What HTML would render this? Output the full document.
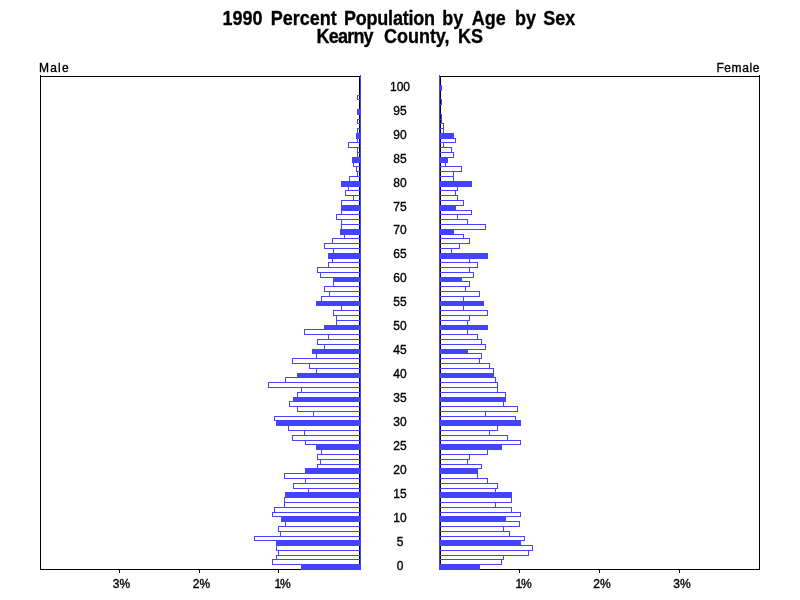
<!DOCTYPE html>
<html><head><meta charset="utf-8"><title>1990 Percent Population by Age by Sex - Kearny County, KS</title>
<style>
html,body{margin:0;padding:0;background:#fff}
body{width:800px;height:600px;position:relative;overflow:hidden;font-family:"Liberation Sans",Arial,Helvetica,sans-serif;color:#000}
.t{position:absolute;left:0;width:800px;height:20px;font-weight:bold;font-size:18px;line-height:20px;white-space:nowrap;transform:scaleY(1.077);transform-origin:0 0;-webkit-text-stroke:0.3px #000}
.t span{position:absolute;top:0}
.l{position:absolute;font-size:12px;line-height:14px;white-space:nowrap;-webkit-text-stroke:0.35px #000}
.age{left:380px;width:40px;text-align:center}
.tk{top:577px;width:40px;text-align:center}
</style></head><body>
<svg width="800" height="600" viewBox="0 0 800 600" shape-rendering="crispEdges" style="position:absolute;left:0;top:0"><rect x="40" y="76" width="320" height="1" fill="#000"/><rect x="40" y="569" width="320" height="1" fill="#000"/><rect x="40" y="75" width="1" height="495" fill="#000"/><rect x="359" y="76" width="1" height="494" fill="#000"/><rect x="440" y="76" width="320" height="1" fill="#000"/><rect x="440" y="569" width="320" height="1" fill="#000"/><rect x="440" y="76" width="1" height="494" fill="#000"/><rect x="759" y="75" width="1" height="495" fill="#000"/><rect x="119" y="570" width="1" height="3" fill="#000"/><rect x="199" y="570" width="1" height="3" fill="#000"/><rect x="278" y="570" width="1" height="3" fill="#000"/><rect x="519" y="570" width="1" height="3" fill="#000"/><rect x="599" y="570" width="1" height="3" fill="#000"/><rect x="679" y="570" width="1" height="3" fill="#000"/><rect x="301" y="564" width="60" height="6" fill="#4444ff"/><rect x="272" y="559" width="89" height="1" fill="#4444ff"/><rect x="272" y="564" width="89" height="1" fill="#4444ff"/><rect x="272" y="559" width="1" height="6" fill="#4444ff"/><rect x="360" y="559" width="1" height="6" fill="#4444ff"/><rect x="276" y="555" width="85" height="1" fill="#4444ff"/><rect x="276" y="559" width="85" height="1" fill="#4444ff"/><rect x="276" y="555" width="1" height="5" fill="#4444ff"/><rect x="360" y="555" width="1" height="5" fill="#4444ff"/><rect x="278" y="550" width="83" height="1" fill="#4444ff"/><rect x="278" y="555" width="83" height="1" fill="#4444ff"/><rect x="278" y="550" width="1" height="6" fill="#4444ff"/><rect x="360" y="550" width="1" height="6" fill="#4444ff"/><rect x="276" y="545" width="85" height="1" fill="#4444ff"/><rect x="276" y="550" width="85" height="1" fill="#4444ff"/><rect x="276" y="545" width="1" height="6" fill="#4444ff"/><rect x="360" y="545" width="1" height="6" fill="#4444ff"/><rect x="276" y="540" width="85" height="6" fill="#4444ff"/><rect x="254" y="536" width="107" height="1" fill="#4444ff"/><rect x="254" y="540" width="107" height="1" fill="#4444ff"/><rect x="254" y="536" width="1" height="5" fill="#4444ff"/><rect x="360" y="536" width="1" height="5" fill="#4444ff"/><rect x="280" y="531" width="81" height="1" fill="#4444ff"/><rect x="280" y="536" width="81" height="1" fill="#4444ff"/><rect x="280" y="531" width="1" height="6" fill="#4444ff"/><rect x="360" y="531" width="1" height="6" fill="#4444ff"/><rect x="278" y="526" width="83" height="1" fill="#4444ff"/><rect x="278" y="531" width="83" height="1" fill="#4444ff"/><rect x="278" y="526" width="1" height="6" fill="#4444ff"/><rect x="360" y="526" width="1" height="6" fill="#4444ff"/><rect x="285" y="521" width="76" height="1" fill="#4444ff"/><rect x="285" y="526" width="76" height="1" fill="#4444ff"/><rect x="285" y="521" width="1" height="6" fill="#4444ff"/><rect x="360" y="521" width="1" height="6" fill="#4444ff"/><rect x="281" y="516" width="80" height="6" fill="#4444ff"/><rect x="272" y="512" width="89" height="1" fill="#4444ff"/><rect x="272" y="516" width="89" height="1" fill="#4444ff"/><rect x="272" y="512" width="1" height="5" fill="#4444ff"/><rect x="360" y="512" width="1" height="5" fill="#4444ff"/><rect x="274" y="507" width="87" height="1" fill="#4444ff"/><rect x="274" y="512" width="87" height="1" fill="#4444ff"/><rect x="274" y="507" width="1" height="6" fill="#4444ff"/><rect x="360" y="507" width="1" height="6" fill="#4444ff"/><rect x="284" y="502" width="77" height="1" fill="#4444ff"/><rect x="284" y="507" width="77" height="1" fill="#4444ff"/><rect x="284" y="502" width="1" height="6" fill="#4444ff"/><rect x="360" y="502" width="1" height="6" fill="#4444ff"/><rect x="284" y="497" width="77" height="1" fill="#4444ff"/><rect x="284" y="502" width="77" height="1" fill="#4444ff"/><rect x="284" y="497" width="1" height="6" fill="#4444ff"/><rect x="360" y="497" width="1" height="6" fill="#4444ff"/><rect x="285" y="492" width="76" height="6" fill="#4444ff"/><rect x="308" y="488" width="53" height="1" fill="#4444ff"/><rect x="308" y="492" width="53" height="1" fill="#4444ff"/><rect x="308" y="488" width="1" height="5" fill="#4444ff"/><rect x="360" y="488" width="1" height="5" fill="#4444ff"/><rect x="293" y="483" width="68" height="1" fill="#4444ff"/><rect x="293" y="488" width="68" height="1" fill="#4444ff"/><rect x="293" y="483" width="1" height="6" fill="#4444ff"/><rect x="360" y="483" width="1" height="6" fill="#4444ff"/><rect x="305" y="478" width="56" height="1" fill="#4444ff"/><rect x="305" y="483" width="56" height="1" fill="#4444ff"/><rect x="305" y="478" width="1" height="6" fill="#4444ff"/><rect x="360" y="478" width="1" height="6" fill="#4444ff"/><rect x="284" y="473" width="77" height="1" fill="#4444ff"/><rect x="284" y="478" width="77" height="1" fill="#4444ff"/><rect x="284" y="473" width="1" height="6" fill="#4444ff"/><rect x="360" y="473" width="1" height="6" fill="#4444ff"/><rect x="305" y="468" width="56" height="6" fill="#4444ff"/><rect x="317" y="464" width="44" height="1" fill="#4444ff"/><rect x="317" y="468" width="44" height="1" fill="#4444ff"/><rect x="317" y="464" width="1" height="5" fill="#4444ff"/><rect x="360" y="464" width="1" height="5" fill="#4444ff"/><rect x="320" y="459" width="41" height="1" fill="#4444ff"/><rect x="320" y="464" width="41" height="1" fill="#4444ff"/><rect x="320" y="459" width="1" height="6" fill="#4444ff"/><rect x="360" y="459" width="1" height="6" fill="#4444ff"/><rect x="317" y="454" width="44" height="1" fill="#4444ff"/><rect x="317" y="459" width="44" height="1" fill="#4444ff"/><rect x="317" y="454" width="1" height="6" fill="#4444ff"/><rect x="360" y="454" width="1" height="6" fill="#4444ff"/><rect x="321" y="449" width="40" height="1" fill="#4444ff"/><rect x="321" y="454" width="40" height="1" fill="#4444ff"/><rect x="321" y="449" width="1" height="6" fill="#4444ff"/><rect x="360" y="449" width="1" height="6" fill="#4444ff"/><rect x="316" y="444" width="45" height="6" fill="#4444ff"/><rect x="305" y="440" width="56" height="1" fill="#4444ff"/><rect x="305" y="444" width="56" height="1" fill="#4444ff"/><rect x="305" y="440" width="1" height="5" fill="#4444ff"/><rect x="360" y="440" width="1" height="5" fill="#4444ff"/><rect x="292" y="435" width="69" height="1" fill="#4444ff"/><rect x="292" y="440" width="69" height="1" fill="#4444ff"/><rect x="292" y="435" width="1" height="6" fill="#4444ff"/><rect x="360" y="435" width="1" height="6" fill="#4444ff"/><rect x="304" y="430" width="57" height="1" fill="#4444ff"/><rect x="304" y="435" width="57" height="1" fill="#4444ff"/><rect x="304" y="430" width="1" height="6" fill="#4444ff"/><rect x="360" y="430" width="1" height="6" fill="#4444ff"/><rect x="288" y="425" width="73" height="1" fill="#4444ff"/><rect x="288" y="430" width="73" height="1" fill="#4444ff"/><rect x="288" y="425" width="1" height="6" fill="#4444ff"/><rect x="360" y="425" width="1" height="6" fill="#4444ff"/><rect x="276" y="420" width="85" height="6" fill="#4444ff"/><rect x="274" y="416" width="87" height="1" fill="#4444ff"/><rect x="274" y="420" width="87" height="1" fill="#4444ff"/><rect x="274" y="416" width="1" height="5" fill="#4444ff"/><rect x="360" y="416" width="1" height="5" fill="#4444ff"/><rect x="313" y="411" width="48" height="1" fill="#4444ff"/><rect x="313" y="416" width="48" height="1" fill="#4444ff"/><rect x="313" y="411" width="1" height="6" fill="#4444ff"/><rect x="360" y="411" width="1" height="6" fill="#4444ff"/><rect x="297" y="406" width="64" height="1" fill="#4444ff"/><rect x="297" y="411" width="64" height="1" fill="#4444ff"/><rect x="297" y="406" width="1" height="6" fill="#4444ff"/><rect x="360" y="406" width="1" height="6" fill="#4444ff"/><rect x="289" y="401" width="72" height="1" fill="#4444ff"/><rect x="289" y="406" width="72" height="1" fill="#4444ff"/><rect x="289" y="401" width="1" height="6" fill="#4444ff"/><rect x="360" y="401" width="1" height="6" fill="#4444ff"/><rect x="293" y="397" width="68" height="5" fill="#4444ff"/><rect x="297" y="392" width="64" height="1" fill="#4444ff"/><rect x="297" y="397" width="64" height="1" fill="#4444ff"/><rect x="297" y="392" width="1" height="6" fill="#4444ff"/><rect x="360" y="392" width="1" height="6" fill="#4444ff"/><rect x="301" y="387" width="60" height="1" fill="#4444ff"/><rect x="301" y="392" width="60" height="1" fill="#4444ff"/><rect x="301" y="387" width="1" height="6" fill="#4444ff"/><rect x="360" y="387" width="1" height="6" fill="#4444ff"/><rect x="268" y="382" width="93" height="1" fill="#4444ff"/><rect x="268" y="387" width="93" height="1" fill="#4444ff"/><rect x="268" y="382" width="1" height="6" fill="#4444ff"/><rect x="360" y="382" width="1" height="6" fill="#4444ff"/><rect x="285" y="377" width="76" height="1" fill="#4444ff"/><rect x="285" y="382" width="76" height="1" fill="#4444ff"/><rect x="285" y="377" width="1" height="6" fill="#4444ff"/><rect x="360" y="377" width="1" height="6" fill="#4444ff"/><rect x="297" y="373" width="64" height="5" fill="#4444ff"/><rect x="316" y="368" width="45" height="1" fill="#4444ff"/><rect x="316" y="373" width="45" height="1" fill="#4444ff"/><rect x="316" y="368" width="1" height="6" fill="#4444ff"/><rect x="360" y="368" width="1" height="6" fill="#4444ff"/><rect x="309" y="363" width="52" height="1" fill="#4444ff"/><rect x="309" y="368" width="52" height="1" fill="#4444ff"/><rect x="309" y="363" width="1" height="6" fill="#4444ff"/><rect x="360" y="363" width="1" height="6" fill="#4444ff"/><rect x="292" y="358" width="69" height="1" fill="#4444ff"/><rect x="292" y="363" width="69" height="1" fill="#4444ff"/><rect x="292" y="358" width="1" height="6" fill="#4444ff"/><rect x="360" y="358" width="1" height="6" fill="#4444ff"/><rect x="316" y="353" width="45" height="1" fill="#4444ff"/><rect x="316" y="358" width="45" height="1" fill="#4444ff"/><rect x="316" y="353" width="1" height="6" fill="#4444ff"/><rect x="360" y="353" width="1" height="6" fill="#4444ff"/><rect x="312" y="349" width="49" height="5" fill="#4444ff"/><rect x="324" y="344" width="37" height="1" fill="#4444ff"/><rect x="324" y="349" width="37" height="1" fill="#4444ff"/><rect x="324" y="344" width="1" height="6" fill="#4444ff"/><rect x="360" y="344" width="1" height="6" fill="#4444ff"/><rect x="317" y="339" width="44" height="1" fill="#4444ff"/><rect x="317" y="344" width="44" height="1" fill="#4444ff"/><rect x="317" y="339" width="1" height="6" fill="#4444ff"/><rect x="360" y="339" width="1" height="6" fill="#4444ff"/><rect x="328" y="334" width="33" height="1" fill="#4444ff"/><rect x="328" y="339" width="33" height="1" fill="#4444ff"/><rect x="328" y="334" width="1" height="6" fill="#4444ff"/><rect x="360" y="334" width="1" height="6" fill="#4444ff"/><rect x="304" y="329" width="57" height="1" fill="#4444ff"/><rect x="304" y="334" width="57" height="1" fill="#4444ff"/><rect x="304" y="329" width="1" height="6" fill="#4444ff"/><rect x="360" y="329" width="1" height="6" fill="#4444ff"/><rect x="324" y="325" width="37" height="5" fill="#4444ff"/><rect x="336" y="320" width="25" height="1" fill="#4444ff"/><rect x="336" y="325" width="25" height="1" fill="#4444ff"/><rect x="336" y="320" width="1" height="6" fill="#4444ff"/><rect x="360" y="320" width="1" height="6" fill="#4444ff"/><rect x="336" y="315" width="25" height="1" fill="#4444ff"/><rect x="336" y="320" width="25" height="1" fill="#4444ff"/><rect x="336" y="315" width="1" height="6" fill="#4444ff"/><rect x="360" y="315" width="1" height="6" fill="#4444ff"/><rect x="333" y="310" width="28" height="1" fill="#4444ff"/><rect x="333" y="315" width="28" height="1" fill="#4444ff"/><rect x="333" y="310" width="1" height="6" fill="#4444ff"/><rect x="360" y="310" width="1" height="6" fill="#4444ff"/><rect x="341" y="305" width="20" height="1" fill="#4444ff"/><rect x="341" y="310" width="20" height="1" fill="#4444ff"/><rect x="341" y="305" width="1" height="6" fill="#4444ff"/><rect x="360" y="305" width="1" height="6" fill="#4444ff"/><rect x="316" y="301" width="45" height="5" fill="#4444ff"/><rect x="321" y="296" width="40" height="1" fill="#4444ff"/><rect x="321" y="301" width="40" height="1" fill="#4444ff"/><rect x="321" y="296" width="1" height="6" fill="#4444ff"/><rect x="360" y="296" width="1" height="6" fill="#4444ff"/><rect x="329" y="291" width="32" height="1" fill="#4444ff"/><rect x="329" y="296" width="32" height="1" fill="#4444ff"/><rect x="329" y="291" width="1" height="6" fill="#4444ff"/><rect x="360" y="291" width="1" height="6" fill="#4444ff"/><rect x="324" y="286" width="37" height="1" fill="#4444ff"/><rect x="324" y="291" width="37" height="1" fill="#4444ff"/><rect x="324" y="286" width="1" height="6" fill="#4444ff"/><rect x="360" y="286" width="1" height="6" fill="#4444ff"/><rect x="333" y="281" width="28" height="1" fill="#4444ff"/><rect x="333" y="286" width="28" height="1" fill="#4444ff"/><rect x="333" y="281" width="1" height="6" fill="#4444ff"/><rect x="360" y="281" width="1" height="6" fill="#4444ff"/><rect x="333" y="277" width="28" height="5" fill="#4444ff"/><rect x="320" y="272" width="41" height="1" fill="#4444ff"/><rect x="320" y="277" width="41" height="1" fill="#4444ff"/><rect x="320" y="272" width="1" height="6" fill="#4444ff"/><rect x="360" y="272" width="1" height="6" fill="#4444ff"/><rect x="317" y="267" width="44" height="1" fill="#4444ff"/><rect x="317" y="272" width="44" height="1" fill="#4444ff"/><rect x="317" y="267" width="1" height="6" fill="#4444ff"/><rect x="360" y="267" width="1" height="6" fill="#4444ff"/><rect x="328" y="262" width="33" height="1" fill="#4444ff"/><rect x="328" y="267" width="33" height="1" fill="#4444ff"/><rect x="328" y="262" width="1" height="6" fill="#4444ff"/><rect x="360" y="262" width="1" height="6" fill="#4444ff"/><rect x="332" y="258" width="29" height="1" fill="#4444ff"/><rect x="332" y="262" width="29" height="1" fill="#4444ff"/><rect x="332" y="258" width="1" height="5" fill="#4444ff"/><rect x="360" y="258" width="1" height="5" fill="#4444ff"/><rect x="328" y="253" width="33" height="6" fill="#4444ff"/><rect x="333" y="248" width="28" height="1" fill="#4444ff"/><rect x="333" y="253" width="28" height="1" fill="#4444ff"/><rect x="333" y="248" width="1" height="6" fill="#4444ff"/><rect x="360" y="248" width="1" height="6" fill="#4444ff"/><rect x="324" y="243" width="37" height="1" fill="#4444ff"/><rect x="324" y="248" width="37" height="1" fill="#4444ff"/><rect x="324" y="243" width="1" height="6" fill="#4444ff"/><rect x="360" y="243" width="1" height="6" fill="#4444ff"/><rect x="332" y="238" width="29" height="1" fill="#4444ff"/><rect x="332" y="243" width="29" height="1" fill="#4444ff"/><rect x="332" y="238" width="1" height="6" fill="#4444ff"/><rect x="360" y="238" width="1" height="6" fill="#4444ff"/><rect x="344" y="234" width="17" height="1" fill="#4444ff"/><rect x="344" y="238" width="17" height="1" fill="#4444ff"/><rect x="344" y="234" width="1" height="5" fill="#4444ff"/><rect x="360" y="234" width="1" height="5" fill="#4444ff"/><rect x="340" y="229" width="21" height="6" fill="#4444ff"/><rect x="341" y="224" width="20" height="1" fill="#4444ff"/><rect x="341" y="229" width="20" height="1" fill="#4444ff"/><rect x="341" y="224" width="1" height="6" fill="#4444ff"/><rect x="360" y="224" width="1" height="6" fill="#4444ff"/><rect x="341" y="219" width="20" height="1" fill="#4444ff"/><rect x="341" y="224" width="20" height="1" fill="#4444ff"/><rect x="341" y="219" width="1" height="6" fill="#4444ff"/><rect x="360" y="219" width="1" height="6" fill="#4444ff"/><rect x="336" y="214" width="25" height="1" fill="#4444ff"/><rect x="336" y="219" width="25" height="1" fill="#4444ff"/><rect x="336" y="214" width="1" height="6" fill="#4444ff"/><rect x="360" y="214" width="1" height="6" fill="#4444ff"/><rect x="341" y="210" width="20" height="1" fill="#4444ff"/><rect x="341" y="214" width="20" height="1" fill="#4444ff"/><rect x="341" y="210" width="1" height="5" fill="#4444ff"/><rect x="360" y="210" width="1" height="5" fill="#4444ff"/><rect x="341" y="205" width="20" height="6" fill="#4444ff"/><rect x="341" y="200" width="20" height="1" fill="#4444ff"/><rect x="341" y="205" width="20" height="1" fill="#4444ff"/><rect x="341" y="200" width="1" height="6" fill="#4444ff"/><rect x="360" y="200" width="1" height="6" fill="#4444ff"/><rect x="353" y="195" width="8" height="1" fill="#4444ff"/><rect x="353" y="200" width="8" height="1" fill="#4444ff"/><rect x="353" y="195" width="1" height="6" fill="#4444ff"/><rect x="360" y="195" width="1" height="6" fill="#4444ff"/><rect x="345" y="190" width="16" height="1" fill="#4444ff"/><rect x="345" y="195" width="16" height="1" fill="#4444ff"/><rect x="345" y="190" width="1" height="6" fill="#4444ff"/><rect x="360" y="190" width="1" height="6" fill="#4444ff"/><rect x="348" y="186" width="13" height="1" fill="#4444ff"/><rect x="348" y="190" width="13" height="1" fill="#4444ff"/><rect x="348" y="186" width="1" height="5" fill="#4444ff"/><rect x="360" y="186" width="1" height="5" fill="#4444ff"/><rect x="341" y="181" width="20" height="6" fill="#4444ff"/><rect x="349" y="176" width="12" height="1" fill="#4444ff"/><rect x="349" y="181" width="12" height="1" fill="#4444ff"/><rect x="349" y="176" width="1" height="6" fill="#4444ff"/><rect x="360" y="176" width="1" height="6" fill="#4444ff"/><rect x="357" y="171" width="4" height="1" fill="#4444ff"/><rect x="357" y="176" width="4" height="1" fill="#4444ff"/><rect x="357" y="171" width="1" height="6" fill="#4444ff"/><rect x="360" y="171" width="1" height="6" fill="#4444ff"/><rect x="356" y="166" width="5" height="1" fill="#4444ff"/><rect x="356" y="171" width="5" height="1" fill="#4444ff"/><rect x="356" y="166" width="1" height="6" fill="#4444ff"/><rect x="360" y="166" width="1" height="6" fill="#4444ff"/><rect x="353" y="162" width="8" height="1" fill="#4444ff"/><rect x="353" y="166" width="8" height="1" fill="#4444ff"/><rect x="353" y="162" width="1" height="5" fill="#4444ff"/><rect x="360" y="162" width="1" height="5" fill="#4444ff"/><rect x="352" y="157" width="9" height="6" fill="#4444ff"/><rect x="357" y="152" width="4" height="1" fill="#4444ff"/><rect x="357" y="157" width="4" height="1" fill="#4444ff"/><rect x="357" y="152" width="1" height="6" fill="#4444ff"/><rect x="360" y="152" width="1" height="6" fill="#4444ff"/><rect x="357" y="147" width="4" height="1" fill="#4444ff"/><rect x="357" y="152" width="4" height="1" fill="#4444ff"/><rect x="357" y="147" width="1" height="6" fill="#4444ff"/><rect x="360" y="147" width="1" height="6" fill="#4444ff"/><rect x="348" y="142" width="13" height="1" fill="#4444ff"/><rect x="348" y="147" width="13" height="1" fill="#4444ff"/><rect x="348" y="142" width="1" height="6" fill="#4444ff"/><rect x="360" y="142" width="1" height="6" fill="#4444ff"/><rect x="357" y="138" width="4" height="1" fill="#4444ff"/><rect x="357" y="142" width="4" height="1" fill="#4444ff"/><rect x="357" y="138" width="1" height="5" fill="#4444ff"/><rect x="360" y="138" width="1" height="5" fill="#4444ff"/><rect x="356" y="133" width="5" height="6" fill="#4444ff"/><rect x="357" y="128" width="4" height="1" fill="#4444ff"/><rect x="357" y="133" width="4" height="1" fill="#4444ff"/><rect x="357" y="128" width="1" height="6" fill="#4444ff"/><rect x="360" y="128" width="1" height="6" fill="#4444ff"/><rect x="357" y="119" width="4" height="1" fill="#4444ff"/><rect x="357" y="123" width="4" height="1" fill="#4444ff"/><rect x="357" y="119" width="1" height="5" fill="#4444ff"/><rect x="360" y="119" width="1" height="5" fill="#4444ff"/><rect x="357" y="109" width="4" height="6" fill="#4444ff"/><rect x="357" y="95" width="4" height="1" fill="#4444ff"/><rect x="357" y="99" width="4" height="1" fill="#4444ff"/><rect x="357" y="95" width="1" height="5" fill="#4444ff"/><rect x="360" y="95" width="1" height="5" fill="#4444ff"/><rect x="439" y="564" width="41" height="6" fill="#4444ff"/><rect x="439" y="559" width="63" height="1" fill="#4444ff"/><rect x="439" y="564" width="63" height="1" fill="#4444ff"/><rect x="439" y="559" width="1" height="6" fill="#4444ff"/><rect x="501" y="559" width="1" height="6" fill="#4444ff"/><rect x="439" y="555" width="65" height="1" fill="#4444ff"/><rect x="439" y="559" width="65" height="1" fill="#4444ff"/><rect x="439" y="555" width="1" height="5" fill="#4444ff"/><rect x="503" y="555" width="1" height="5" fill="#4444ff"/><rect x="439" y="550" width="90" height="1" fill="#4444ff"/><rect x="439" y="555" width="90" height="1" fill="#4444ff"/><rect x="439" y="550" width="1" height="6" fill="#4444ff"/><rect x="528" y="550" width="1" height="6" fill="#4444ff"/><rect x="439" y="545" width="94" height="1" fill="#4444ff"/><rect x="439" y="550" width="94" height="1" fill="#4444ff"/><rect x="439" y="545" width="1" height="6" fill="#4444ff"/><rect x="532" y="545" width="1" height="6" fill="#4444ff"/><rect x="439" y="540" width="82" height="6" fill="#4444ff"/><rect x="439" y="536" width="86" height="1" fill="#4444ff"/><rect x="439" y="540" width="86" height="1" fill="#4444ff"/><rect x="439" y="536" width="1" height="5" fill="#4444ff"/><rect x="524" y="536" width="1" height="5" fill="#4444ff"/><rect x="439" y="531" width="71" height="1" fill="#4444ff"/><rect x="439" y="536" width="71" height="1" fill="#4444ff"/><rect x="439" y="531" width="1" height="6" fill="#4444ff"/><rect x="509" y="531" width="1" height="6" fill="#4444ff"/><rect x="439" y="526" width="65" height="1" fill="#4444ff"/><rect x="439" y="531" width="65" height="1" fill="#4444ff"/><rect x="439" y="526" width="1" height="6" fill="#4444ff"/><rect x="503" y="526" width="1" height="6" fill="#4444ff"/><rect x="439" y="521" width="81" height="1" fill="#4444ff"/><rect x="439" y="526" width="81" height="1" fill="#4444ff"/><rect x="439" y="521" width="1" height="6" fill="#4444ff"/><rect x="519" y="521" width="1" height="6" fill="#4444ff"/><rect x="439" y="516" width="67" height="6" fill="#4444ff"/><rect x="439" y="512" width="82" height="1" fill="#4444ff"/><rect x="439" y="516" width="82" height="1" fill="#4444ff"/><rect x="439" y="512" width="1" height="5" fill="#4444ff"/><rect x="520" y="512" width="1" height="5" fill="#4444ff"/><rect x="439" y="507" width="73" height="1" fill="#4444ff"/><rect x="439" y="512" width="73" height="1" fill="#4444ff"/><rect x="439" y="507" width="1" height="6" fill="#4444ff"/><rect x="511" y="507" width="1" height="6" fill="#4444ff"/><rect x="439" y="502" width="57" height="1" fill="#4444ff"/><rect x="439" y="507" width="57" height="1" fill="#4444ff"/><rect x="439" y="502" width="1" height="6" fill="#4444ff"/><rect x="495" y="502" width="1" height="6" fill="#4444ff"/><rect x="439" y="497" width="73" height="1" fill="#4444ff"/><rect x="439" y="502" width="73" height="1" fill="#4444ff"/><rect x="439" y="497" width="1" height="6" fill="#4444ff"/><rect x="511" y="497" width="1" height="6" fill="#4444ff"/><rect x="439" y="492" width="73" height="6" fill="#4444ff"/><rect x="439" y="488" width="57" height="1" fill="#4444ff"/><rect x="439" y="492" width="57" height="1" fill="#4444ff"/><rect x="439" y="488" width="1" height="5" fill="#4444ff"/><rect x="495" y="488" width="1" height="5" fill="#4444ff"/><rect x="439" y="483" width="59" height="1" fill="#4444ff"/><rect x="439" y="488" width="59" height="1" fill="#4444ff"/><rect x="439" y="483" width="1" height="6" fill="#4444ff"/><rect x="497" y="483" width="1" height="6" fill="#4444ff"/><rect x="439" y="478" width="49" height="1" fill="#4444ff"/><rect x="439" y="483" width="49" height="1" fill="#4444ff"/><rect x="439" y="478" width="1" height="6" fill="#4444ff"/><rect x="487" y="478" width="1" height="6" fill="#4444ff"/><rect x="439" y="473" width="39" height="1" fill="#4444ff"/><rect x="439" y="478" width="39" height="1" fill="#4444ff"/><rect x="439" y="473" width="1" height="6" fill="#4444ff"/><rect x="477" y="473" width="1" height="6" fill="#4444ff"/><rect x="439" y="468" width="39" height="6" fill="#4444ff"/><rect x="439" y="464" width="43" height="1" fill="#4444ff"/><rect x="439" y="468" width="43" height="1" fill="#4444ff"/><rect x="439" y="464" width="1" height="5" fill="#4444ff"/><rect x="481" y="464" width="1" height="5" fill="#4444ff"/><rect x="439" y="459" width="29" height="1" fill="#4444ff"/><rect x="439" y="464" width="29" height="1" fill="#4444ff"/><rect x="439" y="459" width="1" height="6" fill="#4444ff"/><rect x="467" y="459" width="1" height="6" fill="#4444ff"/><rect x="439" y="454" width="31" height="1" fill="#4444ff"/><rect x="439" y="459" width="31" height="1" fill="#4444ff"/><rect x="439" y="454" width="1" height="6" fill="#4444ff"/><rect x="469" y="454" width="1" height="6" fill="#4444ff"/><rect x="439" y="449" width="49" height="1" fill="#4444ff"/><rect x="439" y="454" width="49" height="1" fill="#4444ff"/><rect x="439" y="449" width="1" height="6" fill="#4444ff"/><rect x="487" y="449" width="1" height="6" fill="#4444ff"/><rect x="439" y="444" width="63" height="6" fill="#4444ff"/><rect x="439" y="440" width="82" height="1" fill="#4444ff"/><rect x="439" y="444" width="82" height="1" fill="#4444ff"/><rect x="439" y="440" width="1" height="5" fill="#4444ff"/><rect x="520" y="440" width="1" height="5" fill="#4444ff"/><rect x="439" y="435" width="69" height="1" fill="#4444ff"/><rect x="439" y="440" width="69" height="1" fill="#4444ff"/><rect x="439" y="435" width="1" height="6" fill="#4444ff"/><rect x="507" y="435" width="1" height="6" fill="#4444ff"/><rect x="439" y="430" width="51" height="1" fill="#4444ff"/><rect x="439" y="435" width="51" height="1" fill="#4444ff"/><rect x="439" y="430" width="1" height="6" fill="#4444ff"/><rect x="489" y="430" width="1" height="6" fill="#4444ff"/><rect x="439" y="425" width="59" height="1" fill="#4444ff"/><rect x="439" y="430" width="59" height="1" fill="#4444ff"/><rect x="439" y="425" width="1" height="6" fill="#4444ff"/><rect x="497" y="425" width="1" height="6" fill="#4444ff"/><rect x="439" y="420" width="82" height="6" fill="#4444ff"/><rect x="439" y="416" width="77" height="1" fill="#4444ff"/><rect x="439" y="420" width="77" height="1" fill="#4444ff"/><rect x="439" y="416" width="1" height="5" fill="#4444ff"/><rect x="515" y="416" width="1" height="5" fill="#4444ff"/><rect x="439" y="411" width="47" height="1" fill="#4444ff"/><rect x="439" y="416" width="47" height="1" fill="#4444ff"/><rect x="439" y="411" width="1" height="6" fill="#4444ff"/><rect x="485" y="411" width="1" height="6" fill="#4444ff"/><rect x="439" y="406" width="79" height="1" fill="#4444ff"/><rect x="439" y="411" width="79" height="1" fill="#4444ff"/><rect x="439" y="406" width="1" height="6" fill="#4444ff"/><rect x="517" y="406" width="1" height="6" fill="#4444ff"/><rect x="439" y="401" width="65" height="1" fill="#4444ff"/><rect x="439" y="406" width="65" height="1" fill="#4444ff"/><rect x="439" y="401" width="1" height="6" fill="#4444ff"/><rect x="503" y="401" width="1" height="6" fill="#4444ff"/><rect x="439" y="397" width="67" height="5" fill="#4444ff"/><rect x="439" y="392" width="67" height="1" fill="#4444ff"/><rect x="439" y="397" width="67" height="1" fill="#4444ff"/><rect x="439" y="392" width="1" height="6" fill="#4444ff"/><rect x="505" y="392" width="1" height="6" fill="#4444ff"/><rect x="439" y="387" width="59" height="1" fill="#4444ff"/><rect x="439" y="392" width="59" height="1" fill="#4444ff"/><rect x="439" y="387" width="1" height="6" fill="#4444ff"/><rect x="497" y="387" width="1" height="6" fill="#4444ff"/><rect x="439" y="382" width="59" height="1" fill="#4444ff"/><rect x="439" y="387" width="59" height="1" fill="#4444ff"/><rect x="439" y="382" width="1" height="6" fill="#4444ff"/><rect x="497" y="382" width="1" height="6" fill="#4444ff"/><rect x="439" y="377" width="57" height="1" fill="#4444ff"/><rect x="439" y="382" width="57" height="1" fill="#4444ff"/><rect x="439" y="377" width="1" height="6" fill="#4444ff"/><rect x="495" y="377" width="1" height="6" fill="#4444ff"/><rect x="439" y="373" width="55" height="5" fill="#4444ff"/><rect x="439" y="368" width="55" height="1" fill="#4444ff"/><rect x="439" y="373" width="55" height="1" fill="#4444ff"/><rect x="439" y="368" width="1" height="6" fill="#4444ff"/><rect x="493" y="368" width="1" height="6" fill="#4444ff"/><rect x="439" y="363" width="51" height="1" fill="#4444ff"/><rect x="439" y="368" width="51" height="1" fill="#4444ff"/><rect x="439" y="363" width="1" height="6" fill="#4444ff"/><rect x="489" y="363" width="1" height="6" fill="#4444ff"/><rect x="439" y="358" width="41" height="1" fill="#4444ff"/><rect x="439" y="363" width="41" height="1" fill="#4444ff"/><rect x="439" y="358" width="1" height="6" fill="#4444ff"/><rect x="479" y="358" width="1" height="6" fill="#4444ff"/><rect x="439" y="353" width="43" height="1" fill="#4444ff"/><rect x="439" y="358" width="43" height="1" fill="#4444ff"/><rect x="439" y="353" width="1" height="6" fill="#4444ff"/><rect x="481" y="353" width="1" height="6" fill="#4444ff"/><rect x="439" y="349" width="29" height="5" fill="#4444ff"/><rect x="439" y="344" width="47" height="1" fill="#4444ff"/><rect x="439" y="349" width="47" height="1" fill="#4444ff"/><rect x="439" y="344" width="1" height="6" fill="#4444ff"/><rect x="485" y="344" width="1" height="6" fill="#4444ff"/><rect x="439" y="339" width="43" height="1" fill="#4444ff"/><rect x="439" y="344" width="43" height="1" fill="#4444ff"/><rect x="439" y="339" width="1" height="6" fill="#4444ff"/><rect x="481" y="339" width="1" height="6" fill="#4444ff"/><rect x="439" y="334" width="39" height="1" fill="#4444ff"/><rect x="439" y="339" width="39" height="1" fill="#4444ff"/><rect x="439" y="334" width="1" height="6" fill="#4444ff"/><rect x="477" y="334" width="1" height="6" fill="#4444ff"/><rect x="439" y="329" width="29" height="1" fill="#4444ff"/><rect x="439" y="334" width="29" height="1" fill="#4444ff"/><rect x="439" y="329" width="1" height="6" fill="#4444ff"/><rect x="467" y="329" width="1" height="6" fill="#4444ff"/><rect x="439" y="325" width="49" height="5" fill="#4444ff"/><rect x="439" y="320" width="29" height="1" fill="#4444ff"/><rect x="439" y="325" width="29" height="1" fill="#4444ff"/><rect x="439" y="320" width="1" height="6" fill="#4444ff"/><rect x="467" y="320" width="1" height="6" fill="#4444ff"/><rect x="439" y="315" width="31" height="1" fill="#4444ff"/><rect x="439" y="320" width="31" height="1" fill="#4444ff"/><rect x="439" y="315" width="1" height="6" fill="#4444ff"/><rect x="469" y="315" width="1" height="6" fill="#4444ff"/><rect x="439" y="310" width="49" height="1" fill="#4444ff"/><rect x="439" y="315" width="49" height="1" fill="#4444ff"/><rect x="439" y="310" width="1" height="6" fill="#4444ff"/><rect x="487" y="310" width="1" height="6" fill="#4444ff"/><rect x="439" y="305" width="25" height="1" fill="#4444ff"/><rect x="439" y="310" width="25" height="1" fill="#4444ff"/><rect x="439" y="305" width="1" height="6" fill="#4444ff"/><rect x="463" y="305" width="1" height="6" fill="#4444ff"/><rect x="439" y="301" width="45" height="5" fill="#4444ff"/><rect x="439" y="296" width="25" height="1" fill="#4444ff"/><rect x="439" y="301" width="25" height="1" fill="#4444ff"/><rect x="439" y="296" width="1" height="6" fill="#4444ff"/><rect x="463" y="296" width="1" height="6" fill="#4444ff"/><rect x="439" y="291" width="41" height="1" fill="#4444ff"/><rect x="439" y="296" width="41" height="1" fill="#4444ff"/><rect x="439" y="291" width="1" height="6" fill="#4444ff"/><rect x="479" y="291" width="1" height="6" fill="#4444ff"/><rect x="439" y="286" width="27" height="1" fill="#4444ff"/><rect x="439" y="291" width="27" height="1" fill="#4444ff"/><rect x="439" y="286" width="1" height="6" fill="#4444ff"/><rect x="465" y="286" width="1" height="6" fill="#4444ff"/><rect x="439" y="281" width="31" height="1" fill="#4444ff"/><rect x="439" y="286" width="31" height="1" fill="#4444ff"/><rect x="439" y="281" width="1" height="6" fill="#4444ff"/><rect x="469" y="281" width="1" height="6" fill="#4444ff"/><rect x="439" y="277" width="23" height="5" fill="#4444ff"/><rect x="439" y="272" width="35" height="1" fill="#4444ff"/><rect x="439" y="277" width="35" height="1" fill="#4444ff"/><rect x="439" y="272" width="1" height="6" fill="#4444ff"/><rect x="473" y="272" width="1" height="6" fill="#4444ff"/><rect x="439" y="267" width="31" height="1" fill="#4444ff"/><rect x="439" y="272" width="31" height="1" fill="#4444ff"/><rect x="439" y="267" width="1" height="6" fill="#4444ff"/><rect x="469" y="267" width="1" height="6" fill="#4444ff"/><rect x="439" y="262" width="39" height="1" fill="#4444ff"/><rect x="439" y="267" width="39" height="1" fill="#4444ff"/><rect x="439" y="262" width="1" height="6" fill="#4444ff"/><rect x="477" y="262" width="1" height="6" fill="#4444ff"/><rect x="439" y="258" width="31" height="1" fill="#4444ff"/><rect x="439" y="262" width="31" height="1" fill="#4444ff"/><rect x="439" y="258" width="1" height="5" fill="#4444ff"/><rect x="469" y="258" width="1" height="5" fill="#4444ff"/><rect x="439" y="253" width="49" height="6" fill="#4444ff"/><rect x="439" y="248" width="13" height="1" fill="#4444ff"/><rect x="439" y="253" width="13" height="1" fill="#4444ff"/><rect x="439" y="248" width="1" height="6" fill="#4444ff"/><rect x="451" y="248" width="1" height="6" fill="#4444ff"/><rect x="439" y="243" width="21" height="1" fill="#4444ff"/><rect x="439" y="248" width="21" height="1" fill="#4444ff"/><rect x="439" y="243" width="1" height="6" fill="#4444ff"/><rect x="459" y="243" width="1" height="6" fill="#4444ff"/><rect x="439" y="238" width="31" height="1" fill="#4444ff"/><rect x="439" y="243" width="31" height="1" fill="#4444ff"/><rect x="439" y="238" width="1" height="6" fill="#4444ff"/><rect x="469" y="238" width="1" height="6" fill="#4444ff"/><rect x="439" y="234" width="25" height="1" fill="#4444ff"/><rect x="439" y="238" width="25" height="1" fill="#4444ff"/><rect x="439" y="234" width="1" height="5" fill="#4444ff"/><rect x="463" y="234" width="1" height="5" fill="#4444ff"/><rect x="439" y="229" width="15" height="6" fill="#4444ff"/><rect x="439" y="224" width="47" height="1" fill="#4444ff"/><rect x="439" y="229" width="47" height="1" fill="#4444ff"/><rect x="439" y="224" width="1" height="6" fill="#4444ff"/><rect x="485" y="224" width="1" height="6" fill="#4444ff"/><rect x="439" y="219" width="29" height="1" fill="#4444ff"/><rect x="439" y="224" width="29" height="1" fill="#4444ff"/><rect x="439" y="219" width="1" height="6" fill="#4444ff"/><rect x="467" y="219" width="1" height="6" fill="#4444ff"/><rect x="439" y="214" width="19" height="1" fill="#4444ff"/><rect x="439" y="219" width="19" height="1" fill="#4444ff"/><rect x="439" y="214" width="1" height="6" fill="#4444ff"/><rect x="457" y="214" width="1" height="6" fill="#4444ff"/><rect x="439" y="210" width="33" height="1" fill="#4444ff"/><rect x="439" y="214" width="33" height="1" fill="#4444ff"/><rect x="439" y="210" width="1" height="5" fill="#4444ff"/><rect x="471" y="210" width="1" height="5" fill="#4444ff"/><rect x="439" y="205" width="17" height="6" fill="#4444ff"/><rect x="439" y="200" width="25" height="1" fill="#4444ff"/><rect x="439" y="205" width="25" height="1" fill="#4444ff"/><rect x="439" y="200" width="1" height="6" fill="#4444ff"/><rect x="463" y="200" width="1" height="6" fill="#4444ff"/><rect x="439" y="195" width="19" height="1" fill="#4444ff"/><rect x="439" y="200" width="19" height="1" fill="#4444ff"/><rect x="439" y="195" width="1" height="6" fill="#4444ff"/><rect x="457" y="195" width="1" height="6" fill="#4444ff"/><rect x="439" y="190" width="17" height="1" fill="#4444ff"/><rect x="439" y="195" width="17" height="1" fill="#4444ff"/><rect x="439" y="190" width="1" height="6" fill="#4444ff"/><rect x="455" y="190" width="1" height="6" fill="#4444ff"/><rect x="439" y="186" width="19" height="1" fill="#4444ff"/><rect x="439" y="190" width="19" height="1" fill="#4444ff"/><rect x="439" y="186" width="1" height="5" fill="#4444ff"/><rect x="457" y="186" width="1" height="5" fill="#4444ff"/><rect x="439" y="181" width="33" height="6" fill="#4444ff"/><rect x="439" y="176" width="15" height="1" fill="#4444ff"/><rect x="439" y="181" width="15" height="1" fill="#4444ff"/><rect x="439" y="176" width="1" height="6" fill="#4444ff"/><rect x="453" y="176" width="1" height="6" fill="#4444ff"/><rect x="439" y="171" width="15" height="1" fill="#4444ff"/><rect x="439" y="176" width="15" height="1" fill="#4444ff"/><rect x="439" y="171" width="1" height="6" fill="#4444ff"/><rect x="453" y="171" width="1" height="6" fill="#4444ff"/><rect x="439" y="166" width="23" height="1" fill="#4444ff"/><rect x="439" y="171" width="23" height="1" fill="#4444ff"/><rect x="439" y="166" width="1" height="6" fill="#4444ff"/><rect x="461" y="166" width="1" height="6" fill="#4444ff"/><rect x="439" y="162" width="7" height="1" fill="#4444ff"/><rect x="439" y="166" width="7" height="1" fill="#4444ff"/><rect x="439" y="162" width="1" height="5" fill="#4444ff"/><rect x="445" y="162" width="1" height="5" fill="#4444ff"/><rect x="439" y="157" width="9" height="6" fill="#4444ff"/><rect x="439" y="152" width="15" height="1" fill="#4444ff"/><rect x="439" y="157" width="15" height="1" fill="#4444ff"/><rect x="439" y="152" width="1" height="6" fill="#4444ff"/><rect x="453" y="152" width="1" height="6" fill="#4444ff"/><rect x="439" y="147" width="13" height="1" fill="#4444ff"/><rect x="439" y="152" width="13" height="1" fill="#4444ff"/><rect x="439" y="147" width="1" height="6" fill="#4444ff"/><rect x="451" y="147" width="1" height="6" fill="#4444ff"/><rect x="439" y="142" width="5" height="1" fill="#4444ff"/><rect x="439" y="147" width="5" height="1" fill="#4444ff"/><rect x="439" y="142" width="1" height="6" fill="#4444ff"/><rect x="443" y="142" width="1" height="6" fill="#4444ff"/><rect x="439" y="138" width="17" height="1" fill="#4444ff"/><rect x="439" y="142" width="17" height="1" fill="#4444ff"/><rect x="439" y="138" width="1" height="5" fill="#4444ff"/><rect x="455" y="138" width="1" height="5" fill="#4444ff"/><rect x="439" y="133" width="15" height="6" fill="#4444ff"/><rect x="439" y="128" width="5" height="1" fill="#4444ff"/><rect x="439" y="133" width="5" height="1" fill="#4444ff"/><rect x="439" y="128" width="1" height="6" fill="#4444ff"/><rect x="443" y="128" width="1" height="6" fill="#4444ff"/><rect x="439" y="123" width="5" height="1" fill="#4444ff"/><rect x="439" y="128" width="5" height="1" fill="#4444ff"/><rect x="439" y="123" width="1" height="6" fill="#4444ff"/><rect x="443" y="123" width="1" height="6" fill="#4444ff"/><rect x="439" y="119" width="3" height="1" fill="#4444ff"/><rect x="439" y="123" width="3" height="1" fill="#4444ff"/><rect x="439" y="119" width="1" height="5" fill="#4444ff"/><rect x="441" y="119" width="1" height="5" fill="#4444ff"/><rect x="439" y="114" width="3" height="1" fill="#4444ff"/><rect x="439" y="119" width="3" height="1" fill="#4444ff"/><rect x="439" y="114" width="1" height="6" fill="#4444ff"/><rect x="441" y="114" width="1" height="6" fill="#4444ff"/><rect x="439" y="99" width="3" height="1" fill="#4444ff"/><rect x="439" y="104" width="3" height="1" fill="#4444ff"/><rect x="439" y="99" width="1" height="6" fill="#4444ff"/><rect x="441" y="99" width="1" height="6" fill="#4444ff"/><rect x="439" y="85" width="3" height="6" fill="#4444ff"/><rect x="360" y="75" width="1" height="495" fill="#4444ff"/><rect x="439" y="75" width="1" height="495" fill="#4444ff"/></svg>
<div class="t" style="top:8px"><span style="left:222.5px">1990</span> <span style="left:270.8px">Percent</span> <span style="left:344px;letter-spacing:-0.22px">Population</span> <span style="left:442.3px">by</span> <span style="left:471.8px">Age</span> <span style="left:515px">by</span> <span style="left:543.3px">Sex</span></div>
<div class="t" style="top:26px"><span style="left:316.6px;letter-spacing:-0.8px">Kearny</span> <span style="left:383.9px">County,</span> <span style="left:457.9px">KS</span></div>
<div class="l" style="left:39px;top:61px;letter-spacing:1.2px">Male</div>
<div class="l" style="right:40px;top:61px;letter-spacing:0.6px">Female</div>
<div class="l age" style="top:559px">0</div><div class="l age" style="top:535px">5</div><div class="l age" style="top:511px">10</div><div class="l age" style="top:487px">15</div><div class="l age" style="top:463px">20</div><div class="l age" style="top:439px">25</div><div class="l age" style="top:415px">30</div><div class="l age" style="top:391px">35</div><div class="l age" style="top:367px">40</div><div class="l age" style="top:343px">45</div><div class="l age" style="top:319px">50</div><div class="l age" style="top:295px">55</div><div class="l age" style="top:271px">60</div><div class="l age" style="top:247px">65</div><div class="l age" style="top:223px">70</div><div class="l age" style="top:200px">75</div><div class="l age" style="top:176px">80</div><div class="l age" style="top:152px">85</div><div class="l age" style="top:128px">90</div><div class="l age" style="top:104px">95</div><div class="l age" style="top:80px">100</div><div class="l tk" style="left:101.5px">3%</div><div class="l tk" style="left:181.5px">2%</div><div class="l tk" style="left:262px;letter-spacing:-1.2px">1%</div><div class="l tk" style="left:503px;letter-spacing:-1.2px">1%</div><div class="l tk" style="left:582px">2%</div><div class="l tk" style="left:662px">3%</div>
</body></html>
